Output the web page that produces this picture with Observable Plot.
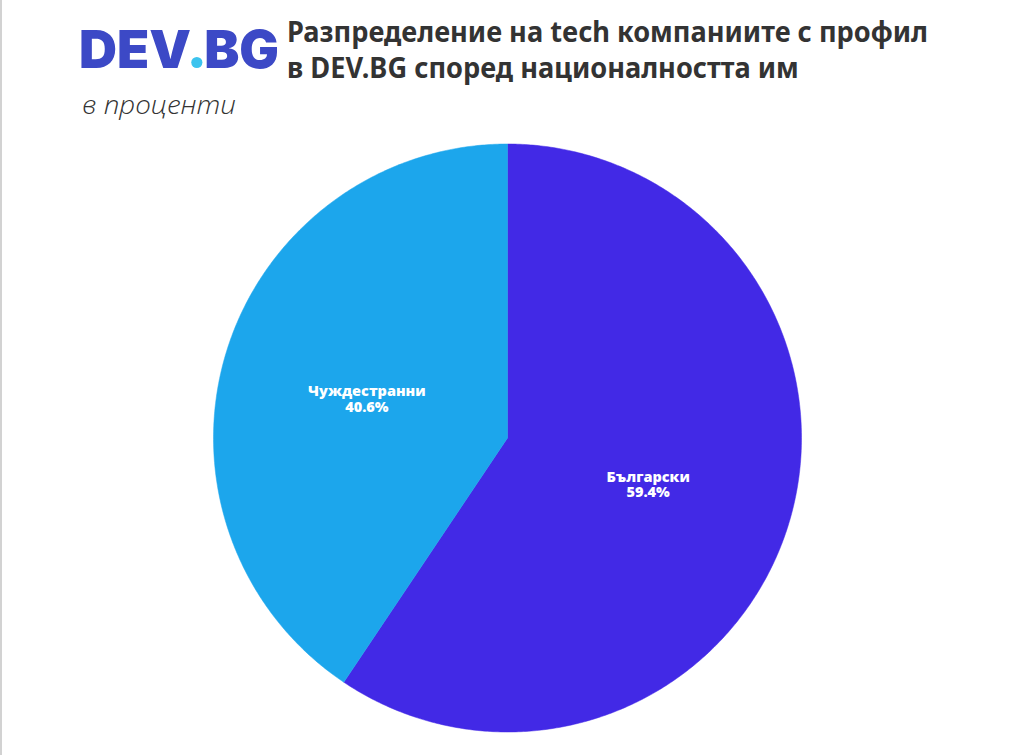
<!DOCTYPE html>
<html><head><meta charset="utf-8">
<script src="https://cdn.jsdelivr.net/npm/d3@7"></script>
<script src="https://cdn.jsdelivr.net/npm/@observablehq/plot@0.6"></script>
<style>
body{margin:0;background:#fff;}
#page{position:relative;width:1025px;height:755px;overflow:hidden;background:#fff;}
#border{position:absolute;left:0;top:0;width:2px;height:755px;background:#d2d2d2;}
#header{position:relative;height:130px;}
#logo{position:absolute;left:79px;top:24px;font-family:Inter,"Noto Sans",sans-serif;font-weight:900;font-size:52px;line-height:1;color:#3c49c6;white-space:nowrap;transform-origin:left top;letter-spacing:0px;}
#logo .dot{display:inline-block;width:11px;height:11px;border-radius:50%;background:#3cc3ee;margin:0 2px 0 0px;vertical-align:baseline;}
#title{position:absolute;left:287px;top:13px;font-family:"Noto Sans",sans-serif;font-weight:700;font-size:29px;line-height:36px;color:#333;white-space:nowrap;transform-origin:left top;}
#subtitle{position:absolute;left:82px;top:91px;font-family:"Open Sans","Noto Sans",sans-serif;font-style:italic;font-weight:300;font-size:26px;line-height:1;color:#333;white-space:nowrap;transform-origin:left top;}
#chart{position:absolute;left:0;top:130px;}
</style>
</head><body>
<div id="page">
  <div id="border"></div>
  <div id="header">
    <div id="logo">DEV<span class="dot"></span>BG</div>
    <div id="title"><div id="t1">Разпределение на tech компаниите с профил</div><div id="t2">в DEV.BG според националността им</div></div>
    <div id="subtitle">в проценти</div>
  </div>
  <div id="chart"></div>
</div>
<script>
const categories = ["Български", "Чуждестранни"];
const values = [59.4, 40.6];
const labels = ["Български\n59.4%", "Чуждестранни\n40.6%"];
const colors = ["#4229e6", "#1ca6ec"];

// fit header text widths
function fit(el, w){ const r = el.getBoundingClientRect().width; el.style.transform = `scaleX(${w / r})`; }
fit(document.getElementById("title"), 641);
fit(document.getElementById("logo"), 200);
fit(document.getElementById("subtitle"), 154);

// pie geometry in data units (radius 1), clockwise from 12 o'clock
const total = d3.sum(values);
const slices = [];
const centroids = [];
let start = 0;
values.forEach((v, i) => {
  const a0 = start / total * 2 * Math.PI;
  const a1 = (start + v) / total * 2 * Math.PI;
  const n = Math.max(2, Math.ceil((a1 - a0) / (Math.PI / 360)));
  slices.push({cat: categories[i], x: 0, y: 0});
  for (let k = 0; k <= n; k++) {
    const a = a0 + (a1 - a0) * k / n;
    slices.push({cat: categories[i], x: Math.sin(a), y: Math.cos(a)});
  }
  slices.push({cat: categories[i], x: 0, y: 0});
  const am = (a0 + a1) / 2;
  centroids.push({cat: categories[i], label: labels[i], x: 0.5 * Math.sin(am), y: 0.5 * Math.cos(am)});
  start += v;
});

const cx = 507, cy = 307.5, R = 294;
const chart = Plot.plot({
  width: 1025,
  height: 620,
  margin: 0,
  x: {domain: [-1, 1], range: [cx - R, cx + R], axis: null},
  y: {domain: [-1, 1], range: [cy + R, cy - R], axis: null},
  color: {domain: categories, range: colors},
  marks: [
    Plot.line(slices, {x: "x", y: "y", z: "cat", fill: "cat", stroke: "cat", strokeWidth: 0.5, curve: "linear"}),
    Plot.text(centroids, {x: "x", y: "y", dy: 4, text: "label", fill: "white", fontSize: 14.5, fontWeight: 800, fontFamily: "'Open Sans', 'Noto Sans', sans-serif", lineHeight: 1.05})
  ]
});
document.getElementById("chart").appendChild(chart);
</script>
</body></html>
